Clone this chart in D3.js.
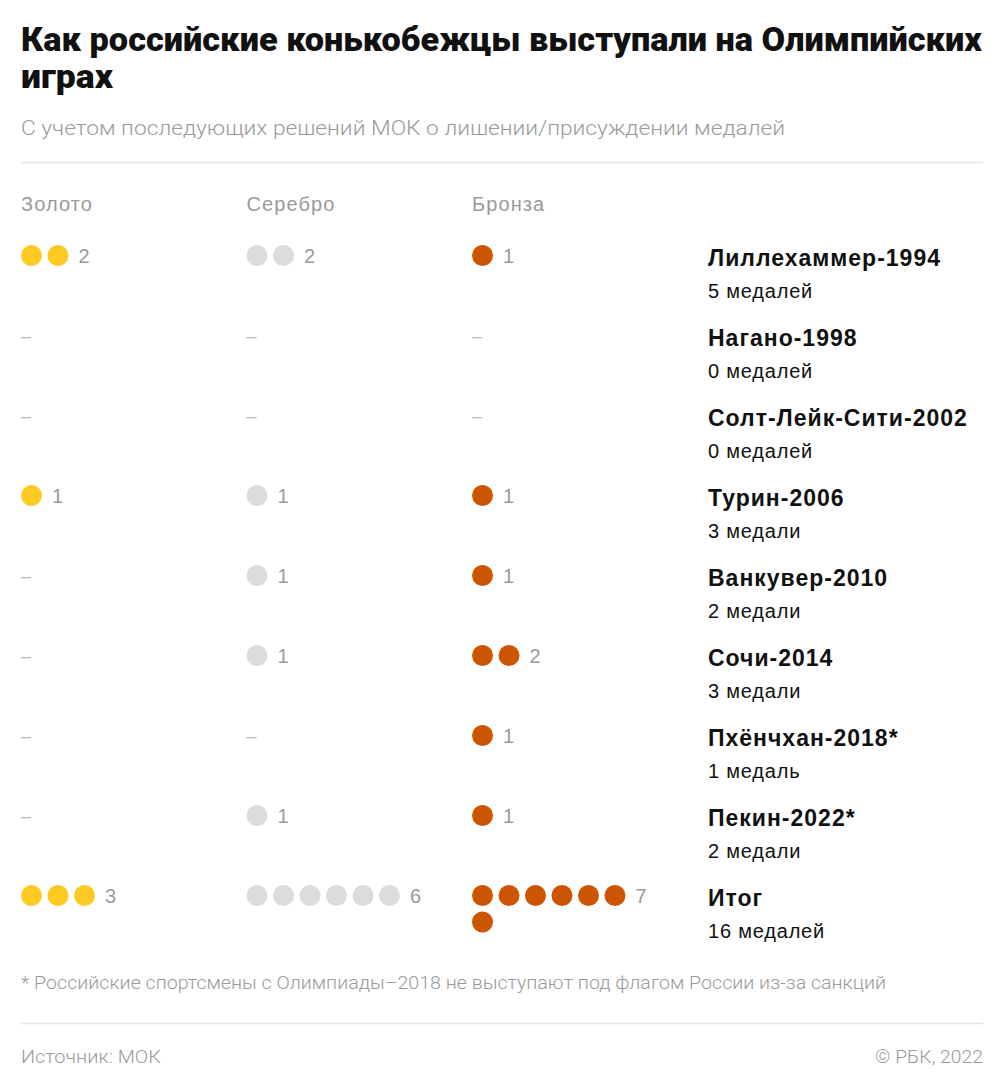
<!DOCTYPE html>
<html><head><meta charset="utf-8">
<script src="https://cdn.jsdelivr.net/npm/d3@7"></script>
<style>
html,body{margin:0;padding:0;background:#fff;}
svg{display:block;font-family:Roboto, "Noto Sans", sans-serif;}
</style></head>
<body>
<svg id="chart" width="1005" height="1091"></svg>
<script>
const title1 = "Как российские конькобежцы выступали на Олимпийских";
const title2 = "играх";
const subtitle = "С учетом последующих решений МОК о лишении/присуждении медалей";
const medalTypes = ["Золото", "Серебро", "Бронза"];
const medalColors = ["#fdca22", "#dcdcdc", "#cb5500"];
const games = ["Лиллехаммер-1994", "Нагано-1998", "Солт-Лейк-Сити-2002", "Турин-2006", "Ванкувер-2010", "Сочи-2014", "Пхёнчхан-2018*", "Пекин-2022*", "Итог"];
const gold   = [2, 0, 0, 1, 0, 0, 0, 0, 3];
const silver = [2, 0, 0, 1, 1, 1, 0, 1, 6];
const bronze = [1, 0, 0, 1, 1, 2, 1, 1, 7];
const totalLabels = ["5 медалей", "0 медалей", "0 медалей", "3 медали", "2 медали", "3 медали", "1 медаль", "2 медали", "16 медалей"];
const footnote = "* Российские спортсмены с Олимпиады–2018 не выступают под флагом России из-за санкций";
const source = "Источник: МОК";
const copyright = "© РБК, 2022";

const svg = d3.select("#chart");
const L = 21, R = 983;
const sans = "'Liberation Sans', Arial, sans-serif";

// title
svg.append("text").attr("x", L).attr("y", 51).attr("font-size", 32.5).attr("font-weight", 900)
  .attr("fill", "#111").text(title1)
  .attr("textLength", R - L - 1).attr("lengthAdjust", "spacingAndGlyphs");
svg.append("text").attr("x", L).attr("y", 88).attr("font-size", 32.5).attr("font-weight", 900)
  .attr("fill", "#111").text(title2)
  .attr("textLength", 92).attr("lengthAdjust", "spacingAndGlyphs");

svg.append("text").attr("x", L).attr("y", 135).attr("font-size", 20).attr("font-weight", 300)
  .attr("fill", "#9a9a9a").text(subtitle).attr("textLength", 764).attr("lengthAdjust", "spacingAndGlyphs");

svg.append("line").attr("x1", L).attr("x2", R).attr("y1", 162.5).attr("y2", 162.5)
  .attr("stroke", "#e4e4e4").attr("stroke-width", 1.5);

// scales
const xCol = d3.scalePoint().domain(medalTypes).range([L, 472]);
const y = d3.scalePoint().domain(games).range([255.5, 895.5]);
const dotStep = 26.5, perRow = 6, r = 10.5;
const xDot = d3.scaleLinear().domain([0, 1]).range([0, dotStep]);

// headers
svg.selectAll(".hdr").data(medalTypes).join("text")
  .attr("x", d => xCol(d)).attr("y", 211).attr("font-size", 20).attr("font-family", sans)
  .attr("letter-spacing", 1.1).attr("fill", "#9a9a9a").text(d => d);

const series = [gold, silver, bronze];
series.forEach((vals, si) => {
  const mt = medalTypes[si];
  const g = svg.append("g");
  games.forEach((game, gi) => {
    const v = vals[gi];
    const cy = y(game);
    const x0 = xCol(mt) + r;
    if (v === 0) {
      g.append("text").attr("x", xCol(mt)).attr("y", cy + 6).attr("font-size", 18).attr("font-family", sans)
        .attr("fill", "#b8b8b8").text("–");
      return;
    }
    const dots = d3.range(v);
    g.selectAll(null).data(dots).join("circle")
      .attr("cx", i => x0 + xDot(i % perRow))
      .attr("cy", i => cy + Math.floor(i / perRow) * dotStep)
      .attr("r", r).attr("fill", medalColors[si]);
    const nFirst = Math.min(v, perRow);
    g.append("text").attr("x", x0 + xDot(nFirst - 1) + r + 10).attr("y", cy + 7.5)
      .attr("font-size", 20).attr("font-family", sans).attr("fill", "#9a9a9a").text(v);
  });
});

// row labels
const lab = svg.append("g").attr("font-family", sans);
games.forEach((game, gi) => {
  const cy = y(game);
  lab.append("text").attr("x", 708).attr("y", cy + 10.5).attr("font-size", 23).attr("font-weight", 700)
    .attr("letter-spacing", 1.0).attr("fill", "#111").text(game);
  lab.append("text").attr("x", 708).attr("y", cy + 42).attr("font-size", 20)
    .attr("letter-spacing", 0.8).attr("fill", "#111").text(totalLabels[gi]);
});

// footer
svg.append("text").attr("x", L).attr("y", 989).attr("font-size", 17.5).attr("font-weight", 300)
  .attr("fill", "#9a9a9a").text(footnote).attr("textLength", 865).attr("lengthAdjust", "spacingAndGlyphs");
svg.append("line").attr("x1", L).attr("x2", R).attr("y1", 1023.5).attr("y2", 1023.5)
  .attr("stroke", "#e4e4e4").attr("stroke-width", 1.5);
svg.append("text").attr("x", L).attr("y", 1063).attr("font-size", 18).attr("font-weight", 300)
  .attr("fill", "#9a9a9a").text(source).attr("textLength", 140).attr("lengthAdjust", "spacingAndGlyphs");
svg.append("text").attr("x", R).attr("y", 1063).attr("font-size", 18.5).attr("font-weight", 300)
  .attr("text-anchor", "end").attr("fill", "#9a9a9a").text(copyright)
  .attr("textLength", 108).attr("lengthAdjust", "spacingAndGlyphs");
</script>
</body></html>
